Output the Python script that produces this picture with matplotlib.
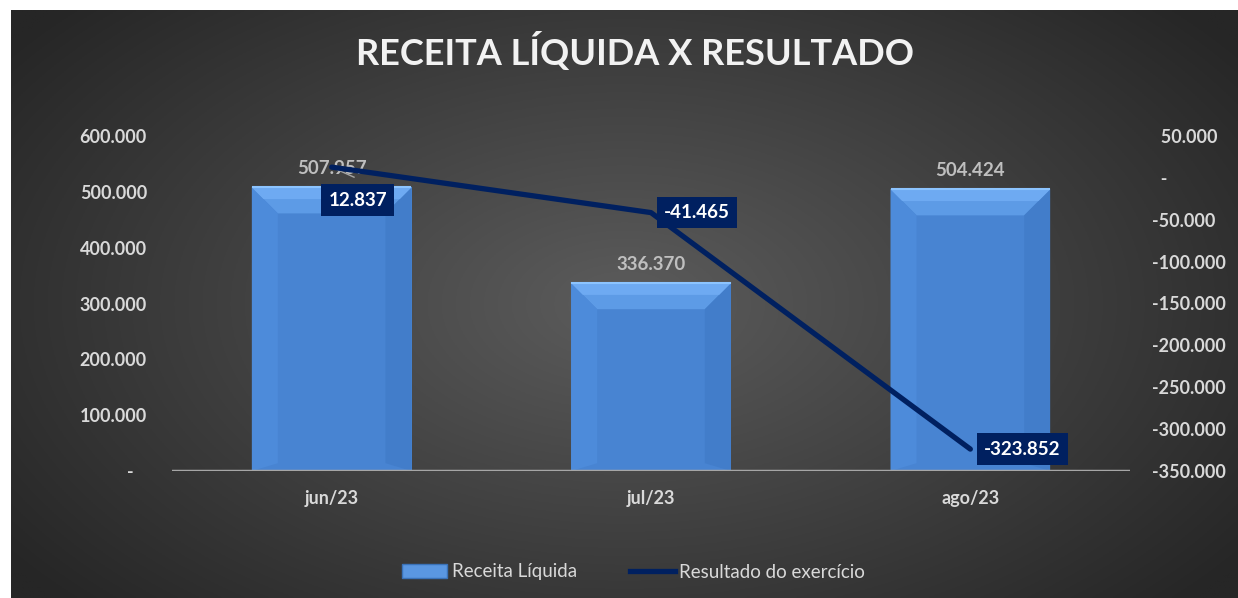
import numpy as np
import matplotlib
matplotlib.use("Agg")
import matplotlib.pyplot as plt
from matplotlib.patches import Polygon
from matplotlib.lines import Line2D
from matplotlib.patches import Patch

plt.rcParams['font.family'] = ['Lato', 'DejaVu Sans']

# data
meses = ["jun/23", "jul/23", "ago/23"]
receita = [507957, 336370, 504424]
resultado = [12837, -41465, -323852]
left_ticks = [0, 100000, 200000, 300000, 400000, 500000, 600000]
right_ticks = [50000, 0, -50000, -100000, -150000, -200000, -250000, -300000, -350000]

txt = "#d9d9d9"
navy = "#002060"


def fmt(v):
    if v == 0:
        return "-"
    return f"{v:,.0f}".replace(",", ".")


fig = plt.figure(figsize=(12.38, 5.98), dpi=100)
fig.patch.set_facecolor("white")

# dark background with radial gradient
bg = fig.add_axes([11 / 1238, 0, 1 - 11 / 1238, 1 - 10 / 598])
bg.set_axis_off()
yy, xx = np.mgrid[0:1:300j, 0:1:600j]
r = np.sqrt(((xx - 0.5) / 0.62) ** 2 + ((yy - 0.5) / 0.75) ** 2)
r = np.clip(r, 0, 1)
c0 = np.array([0x5c, 0x5c, 0x5c]) / 255
c1 = np.array([0x26, 0x26, 0x26]) / 255
img = c0[None, None, :] * (1 - r[..., None]) + c1[None, None, :] * r[..., None]
bg.imshow(img, aspect="auto", extent=[0, 1, 0, 1])

ax = fig.add_axes([172 / 1238, 1 - 471 / 598, 958 / 1238, 335 / 598])
ax.patch.set_alpha(0)
ax2 = ax.twinx()
ax2.patch.set_alpha(0)

x = np.arange(len(meses))
w = 0.5
ax.set_xlim(-0.5, 2.5)
ax.set_ylim(0, 600000)
ax2.set_ylim(-350000, 50000)

# bars with a soft bevel
bx = 26 / 958 * 3           # bevel width in data x
by = 26 / 335 * 600000      # bevel height in data y
for xi, h in zip(x, receita):
    x0, x1 = xi - w / 2, xi + w / 2
    ax.bar(xi, h, width=w, color="#4884d2", linewidth=0, zorder=2)
    top = [(x0, h), (x1, h), (x1 - bx, h - by), (x0 + bx, h - by)]
    lft = [(x0, 0), (x0, h), (x0 + bx, h - by), (x0 + bx, by * 0.3)]
    rgt = [(x1, 0), (x1, h), (x1 - bx, h - by), (x1 - bx, by * 0.3)]
    ax.add_patch(Polygon(top, closed=True, color="#5d9be6", lw=0, zorder=3))
    ax.add_patch(Polygon(lft, closed=True, color="#4d8bda", lw=0, zorder=3))
    ax.add_patch(Polygon(rgt, closed=True, color="#427dca", lw=0, zorder=3))
    top2 = [(x0, h), (x1, h), (x1 - bx * 0.45, h - by * 0.45), (x0 + bx * 0.45, h - by * 0.45)]
    ax.add_patch(Polygon(top2, closed=True, color="#6eaaf2", lw=0, zorder=3))
    ax.plot([x0 + 0.004, x1 - 0.004], [h, h], color="#8cc4ff", lw=1.5, zorder=4)
    ax.annotate(fmt(h), (xi, h), xytext=(0, 10), textcoords="offset pixels",
                ha="center", va="bottom", color="#bfbfbf", fontsize=13.5,
                fontweight="bold", zorder=6)

# line
ax2.plot(x, resultado, color=navy, lw=3.8, zorder=5, solid_capstyle="round")
offsets = [(26, -33, "center"), (13, 0, "left"), (14, 0, "left")]
for xi, v, (dx, dy, ha) in zip(x, resultado, offsets):
    ax2.annotate(fmt(v), (xi, v), xytext=(dx, dy), textcoords="offset pixels",
                 ha=ha, va="center", color="white", fontsize=13.5, fontweight="bold",
                 bbox=dict(boxstyle="square,pad=0.38", fc=navy, ec="none"), zorder=7)
ax2.plot([x[0], x[0] + 0.07], [resultado[0], resultado[0] - 12000], color="#a6a6a6", lw=1, zorder=4)

# axes styling
for a in (ax, ax2):
    for s in a.spines.values():
        s.set_visible(False)
ax.axhline(0, color="#a6a6a6", lw=2.5, zorder=4)

ax.set_xticks(x)
ax.set_xticklabels(meses)
ax.tick_params(axis="x", length=0, pad=14, colors=txt, labelsize=13)
ax.set_yticks(left_ticks)
ax.set_yticklabels([fmt(v) + ("   " if v == 0 else "") for v in left_ticks])
ax.tick_params(axis="y", length=0, pad=18, colors=txt, labelsize=13)
ax2.set_yticks(right_ticks)
ax2.set_yticklabels([("  " + fmt(v)) if v >= 0 else fmt(v) for v in right_ticks])
ax2.tick_params(axis="y", length=0, pad=16, colors=txt, labelsize=13)
for lab in ax.get_xticklabels() + ax.get_yticklabels() + ax2.get_yticklabels():
    lab.set_fontweight("bold")

fig.text(0.513, 1 - 52 / 598, "RECEITA LÍQUIDA X RESULTADO", ha="center", va="center",
         color="#f2f2f2", fontsize=26, fontweight="bold")

handles = [Patch(facecolor="#5a97e2", edgecolor="#3a72b8"),
           Line2D([0], [0], color=navy, lw=3.8)]
leg = fig.legend(handles, ["Receita Líquida", "Resultado do exercício"],
                 loc="center", bbox_to_anchor=(0.512, 1 - 572 / 598), ncol=2,
                 frameon=False, fontsize=13.5, labelcolor=txt, handlelength=2.4,
                 handletextpad=0.25, columnspacing=2.8)

fig.savefig("out.png", dpi=100, facecolor=fig.get_facecolor())
